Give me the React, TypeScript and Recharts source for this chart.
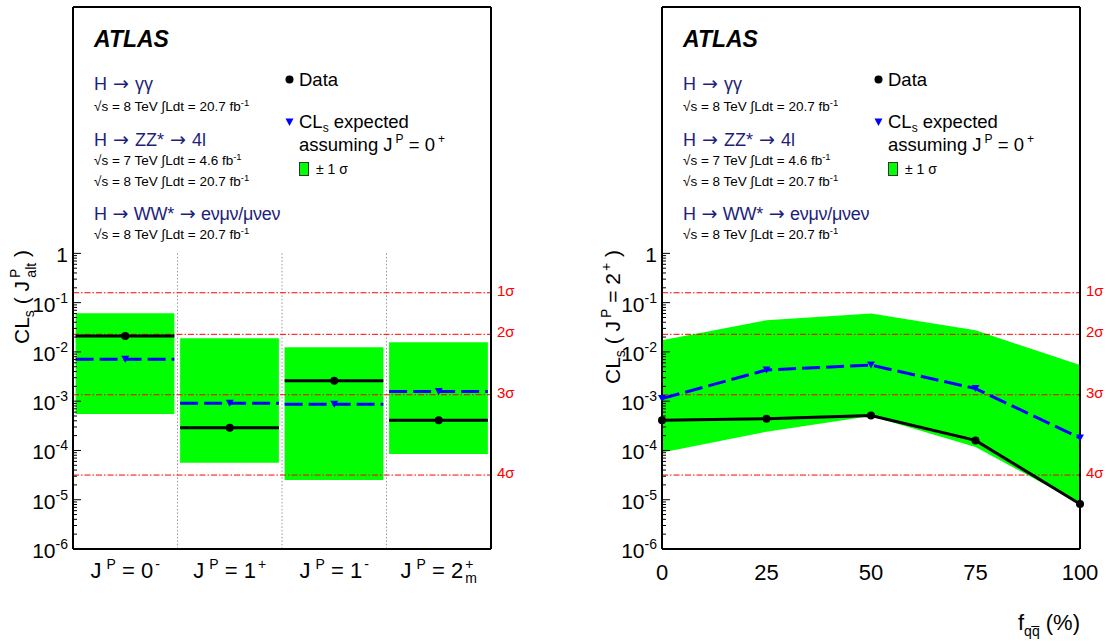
import React from 'react'
import { ComposedChart, Line, Area, XAxis, YAxis, ReferenceLine, ReferenceArea } from 'recharts'

// left panel: alternative J^P hypotheses
const ALT_BASE = ['0', '1', '1', '2']
const ALT_SUP = ['-', '+', '-', '+']
const ALT_SUB = ['', '', '', 'm']
const ALT_OBSERVED = [0.021, 2.9e-4, 2.6e-3, 4.1e-4]
const ALT_EXPECTED = [7.1e-3, 9.1e-4, 8.7e-4, 1.57e-3]
const ALT_BAND_HI = [0.061, 0.0189, 0.0124, 0.0157]
const ALT_BAND_LO = [5.5e-4, 5.6e-5, 2.5e-5, 8.5e-5]

// right panel: spin-2 vs qq fraction
const FQQ = [0, 25, 50, 75, 100]
const FQQ_OBSERVED = [4.1e-4, 4.4e-4, 5.1e-4, 1.6e-4, 8.2e-6]
const FQQ_EXPECTED = [1.13e-3, 4.3e-3, 5.4e-3, 1.8e-3, 1.8e-4]
const FQQ_BAND_HI = [0.0172, 0.044, 0.06, 0.0275, 5.4e-3]
const FQQ_BAND_LO = [9.1e-5, 2.4e-4, 5.0e-4, 1.18e-4, 8.4e-6]

const SIGMA_VALUES = [0.1587, 0.02275, 0.00135, 3.167e-5]
const SIGMA_LABELS = ['1σ', '2σ', '3σ', '4σ']

const DECADES = [-6, -5, -4, -3, -2, -1, 0]
const MINOR_STEPS = [2, 3, 4, 5, 6, 7, 8, 9]
const FQQ_TICKS = [0, 25, 50, 75, 100]

const FONT = '"Liberation Sans", Arial, Helvetica, sans-serif'
const ARROW_FONT = '"DejaVu Sans", sans-serif'
const NAVY = '#1e1e7a'
const GREEN = '#00ff00'
const BLUE = '#0000ff'
const RED = '#ff0000'

const W = 520
const H = 600
const AXIS_L = 73
const AXIS_R = 491
const TOP = 7
const BOTTOM = 549
const Y_DOMAIN: [number, number] = [1e-6, 1e5]

const LOG_TICKS = DECADES.flatMap((e) =>
  e === 0 ? [1] : [Math.pow(10, e), ...MINOR_STEPS.map((m) => m * Math.pow(10, e))]
)

const decadeOf = (v: number) => DECADES.find((e) => Math.abs(v - Math.pow(10, e)) < Math.pow(10, e) * 1e-6)

const altRows = ALT_BASE.flatMap((_, i) => [
  { x: i + 0.025, obs: ALT_OBSERVED[i], exp: ALT_EXPECTED[i] },
  { x: i + 0.5, obs: ALT_OBSERVED[i], exp: ALT_EXPECTED[i], mark: true },
  { x: i + 0.97, obs: ALT_OBSERVED[i], exp: ALT_EXPECTED[i] },
  { x: i + 0.985, obs: null, exp: null },
])

const fqqRows = FQQ.map((f, i) => ({
  x: f,
  obs: FQQ_OBSERVED[i],
  exp: FQQ_EXPECTED[i],
  band: [FQQ_BAND_LO[i], FQQ_BAND_HI[i]],
  mark: true,
}))

function leftTick(p: any) {
  const v = p.payload.value
  const y = p.y
  const e = decadeOf(v)
  const major = e !== undefined
  return (
    <g>
      <line x1={AXIS_L} x2={AXIS_L + (major ? 8 : 4)} y1={y} y2={y} stroke="#000" strokeWidth={1} />
      {major && (
        <text x={AXIS_L - 5} y={y + 9} textAnchor="end" fontSize={21} fontFamily={FONT} fill="#000">
          {e === 0 ? '1' : (
            <>
              10<tspan dy={-9} fontSize={14}>{`${e}`}</tspan>
            </>
          )}
        </text>
      )}
    </g>
  )
}

function rightTick(p: any) {
  const major = decadeOf(p.payload.value) !== undefined
  return <line x1={AXIS_R} x2={AXIS_R - (major ? 8 : 4)} y1={p.y} y2={p.y} stroke="#000" strokeWidth={1} />
}

function altTick(p: any) {
  const i = Math.floor(p.payload.value)
  return (
    <text x={p.x} y={BOTTOM + 29} textAnchor="middle" fontSize={22} fontFamily={FONT} fill="#000">
      J<tspan dx={5} dy={-9} fontSize={14}>P</tspan>
      <tspan dy={9}>{` = ${ALT_BASE[i]}`}</tspan>
      <tspan dx={2} dy={-9} fontSize={14}>{ALT_SUP[i]}</tspan>
      {ALT_SUB[i] && (
        <tspan dx={-8} dy={14} fontSize={14}>{ALT_SUB[i]}</tspan>
      )}
    </text>
  )
}

function fqqTick(p: any) {
  return (
    <text x={p.x} y={BOTTOM + 31} textAnchor="middle" fontSize={22} fontFamily={FONT} fill="#000">
      {p.payload.value}
    </text>
  )
}

function obsDot(p: any) {
  if (!p.payload.mark) return <g key={p.key} />
  return <circle key={p.key} cx={p.cx} cy={p.cy} r={4} fill="#000" />
}

function expDot(p: any) {
  if (!p.payload.mark) return <g key={p.key} />
  const { cx, cy } = p
  return <polygon key={p.key} points={`${cx - 4},${cy - 3.5} ${cx + 4},${cy - 3.5} ${cx},${cy + 3.5}`} fill={BLUE} />
}

function sigmaLabel(text: string) {
  return (p: any) => {
    const vb = p.viewBox
    return (
      <text x={vb.x + vb.width + 6} y={vb.y + 3} fontSize={15} fontFamily={FONT} fill={RED}>
        {text}
      </text>
    )
  }
}

function axes(xAxis: React.ReactNode) {
  return [
    xAxis,
    <YAxis
      key="yl"
      yAxisId="l"
      type="number"
      scale="log"
      domain={Y_DOMAIN}
      ticks={LOG_TICKS}
      interval={0}
      tick={leftTick}
      tickLine={false}
      axisLine={{ stroke: '#000', strokeWidth: 2 }}
      width={AXIS_L}
    />,
    <YAxis
      key="yr"
      yAxisId="r"
      orientation="right"
      type="number"
      scale="log"
      domain={Y_DOMAIN}
      ticks={LOG_TICKS}
      interval={0}
      tick={rightTick}
      tickLine={false}
      axisLine={{ stroke: '#000', strokeWidth: 2 }}
      width={W - AXIS_R}
    />,
  ]
}

function sigmaLines() {
  return SIGMA_VALUES.map((v, i) => (
    <ReferenceLine
      key={'s' + i}
      yAxisId="l"
      y={v}
      stroke={RED}
      strokeWidth={1}
      strokeDasharray="6 2 1.5 2"
      label={sigmaLabel(SIGMA_LABELS[i])}
    />
  ))
}

function AltChart() {
  return (
    <ComposedChart width={W} height={H} data={altRows} margin={{ top: TOP, right: 0, bottom: 0, left: 0 }}>
      {axes(
        <XAxis
          key="x"
          dataKey="x"
          type="number"
          domain={[0, 4]}
          ticks={[0.5, 1.5, 2.5, 3.5]}
          interval={0}
          tick={altTick}
          tickLine={false}
          axisLine={{ stroke: '#000', strokeWidth: 2 }}
          height={H - BOTTOM}
        />
      )}
      {ALT_BAND_HI.map((hi, i) => (
        <ReferenceArea
          key={'b' + i}
          yAxisId="l"
          x1={i + 0.025}
          x2={i + 0.97}
          y1={ALT_BAND_LO[i]}
          y2={hi}
          fill={GREEN}
          fillOpacity={1}
          stroke="none"
        />
      ))}
      {[1, 2, 3].map((b) => (
        <ReferenceLine
          key={'sep' + b}
          yAxisId="l"
          segment={[{ x: b, y: 1 }, { x: b, y: 1e-6 }]}
          stroke="#999"
          strokeDasharray="1.5 2"
          strokeWidth={1}
        />
      ))}
      {sigmaLines()}
      <Line yAxisId="l" dataKey="exp" stroke={BLUE} strokeWidth={3} strokeDasharray="18 6" dot={expDot} activeDot={false} connectNulls={false} isAnimationActive={false} />
      <Line yAxisId="l" dataKey="obs" stroke="#000" strokeWidth={3} dot={obsDot} activeDot={false} connectNulls={false} isAnimationActive={false} />
      <ReferenceLine yAxisId="l" y={1e5} stroke="#000" strokeWidth={2} />
    </ComposedChart>
  )
}

function FqqChart() {
  return (
    <ComposedChart width={W} height={H} data={fqqRows} margin={{ top: TOP, right: 0, bottom: 0, left: 0 }}>
      {axes(
        <XAxis
          key="x"
          dataKey="x"
          type="number"
          domain={[0, 100]}
          ticks={FQQ_TICKS}
          interval={0}
          tick={fqqTick}
          tickLine={false}
          axisLine={{ stroke: '#000', strokeWidth: 2 }}
          height={H - BOTTOM}
        />
      )}
      <Area yAxisId="l" dataKey="band" fill={GREEN} fillOpacity={1} stroke="none" activeDot={false} isAnimationActive={false} />
      {sigmaLines()}
      <Line yAxisId="l" dataKey="exp" stroke={BLUE} strokeWidth={3} strokeDasharray="18 6" dot={expDot} activeDot={false} isAnimationActive={false} />
      <Line yAxisId="l" dataKey="obs" stroke="#000" strokeWidth={3} dot={obsDot} activeDot={false} isAnimationActive={false} />
      <ReferenceLine yAxisId="l" y={1e5} stroke="#000" strokeWidth={2} />
    </ComposedChart>
  )
}

function Lumi({ x, y, rs, lumi }: { x: number; y: number; rs: string; lumi: string }) {
  return (
    <text x={x} y={y} fontSize={13.5} fontFamily={FONT} fill="#000">
      {`√s = ${rs} TeV ∫Ldt = ${lumi} fb`}
      <tspan dy={-5} fontSize={9.5}>-1</tspan>
    </text>
  )
}

const Arrow = () => (
  <tspan fontFamily={ARROW_FONT} fontSize={19}>{' → '}</tspan>
)

function PanelText({ dx }: { dx: number }) {
  const x = 94
  const lx = 299
  return (
    <g transform={`translate(${dx},0)`} fontFamily={FONT}>
      <text x={x} y={47} fontSize={23} fontWeight="bold" fontStyle="italic" fill="#000">ATLAS</text>
      <text x={x} y={90} fontSize={18} fill={NAVY}>H<Arrow />γγ</text>
      <Lumi x={x} y={111} rs="8" lumi="20.7" />
      <text x={x} y={146} fontSize={18} fill={NAVY}>H<Arrow />ZZ*<Arrow />4l</text>
      <Lumi x={x} y={165} rs="7" lumi="4.6" />
      <Lumi x={x} y={186} rs="8" lumi="20.7" />
      <text x={x} y={220} fontSize={18} fill={NAVY} letterSpacing={-0.3}>H<Arrow />WW*<Arrow />eνμν/μνeν</text>
      <Lumi x={x} y={239} rs="8" lumi="20.7" />

      <circle cx={289.5} cy={79.5} r={4} fill="#000" />
      <text x={lx} y={86} fontSize={18.5} fill="#000">Data</text>
      <polygon points="285.5,118.5 293.5,118.5 289.5,126" fill={BLUE} />
      <text x={lx} y={128} fontSize={18.5} fill="#000">
        CL<tspan dy={4} fontSize={12}>s</tspan>
        <tspan dy={-4}> expected</tspan>
      </text>
      <text x={lx} y={151} fontSize={18.5} fill="#000">
        assuming J<tspan dx={3} dy={-8} fontSize={12}>P</tspan>
        <tspan dy={8}> = 0</tspan>
        <tspan dx={3} dy={-8} fontSize={12}>+</tspan>
      </text>
      <rect x={299.5} y={162.5} width={9} height={13} fill={GREEN} stroke="#333" strokeWidth={1} />
      <text x={316} y={174} fontSize={14} fill="#000">± 1 σ</text>
    </g>
  )
}

function Overlay() {
  return (
    <svg width={1106} height={644} style={{ position: 'absolute', left: 0, top: 0, pointerEvents: 'none' }}>
      <PanelText dx={0} />
      <PanelText dx={589} />
      <text transform="translate(29,297) rotate(-90)" textAnchor="middle" fontSize={21} fontFamily={FONT} fill="#000">
        CL<tspan dy={5} fontSize={14}>s</tspan>
        <tspan dy={-5}> ( J</tspan>
        <tspan dx={3} dy={-9} fontSize={14}>P</tspan>
        <tspan dx={-9} dy={16} fontSize={14}>alt</tspan>
        <tspan dy={-7}> )</tspan>
      </text>
      <text transform="translate(620,317) rotate(-90)" textAnchor="middle" fontSize={21} fontFamily={FONT} fill="#000">
        CL<tspan dy={5} fontSize={14}>s</tspan>
        <tspan dy={-5}> ( J</tspan>
        <tspan dx={3} dy={-9} fontSize={14}>P</tspan>
        <tspan dy={9}> = 2</tspan>
        <tspan dx={2} dy={-9} fontSize={14}>+</tspan>
        <tspan dy={9}> )</tspan>
      </text>
      <text x={1080} y={630} textAnchor="end" fontSize={22} fontFamily={FONT} fill="#000">
        f<tspan dy={6} fontSize={14}>{'qq\u0305'}</tspan>
        <tspan dy={-6}> (%)</tspan>
      </text>
    </svg>
  )
}

export default function App() {
  return (
    <div style={{ position: 'absolute', left: 0, top: 0, width: 1106, height: 644, background: '#fff' }}>
      <div style={{ position: 'absolute', left: 0, top: 0 }}>
        <AltChart />
      </div>
      <div style={{ position: 'absolute', left: 589, top: 0 }}>
        <FqqChart />
      </div>
      <Overlay />
    </div>
  )
}
